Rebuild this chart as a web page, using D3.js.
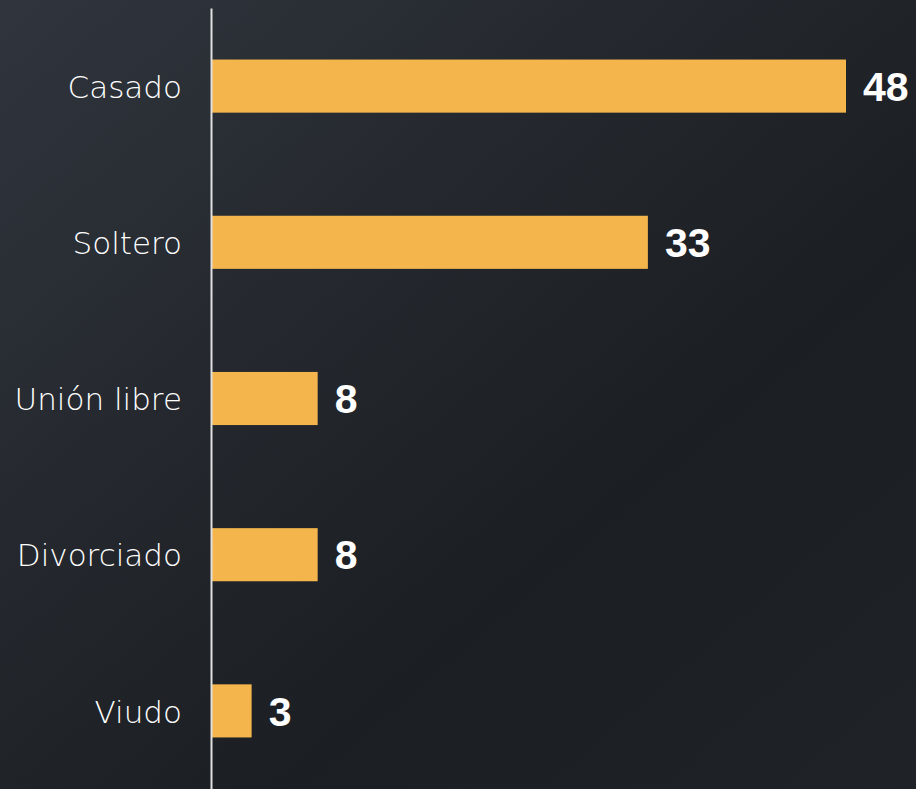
<!DOCTYPE html>
<html><head><meta charset="utf-8">
<script src="https://cdn.jsdelivr.net/npm/d3@7"></script>
<style>html,body{margin:0;padding:0;background:#23272d;}svg{display:block;}</style>
</head><body>
<script>
const categories = ["Casado", "Soltero", "Unión libre", "Divorciado", "Viudo"];
const values = [48, 33, 8, 8, 3];

const W = 916, H = 789;
const svg = d3.select("body").append("svg").attr("width", W).attr("height", H);
const defs = svg.append("defs");
const g = defs.append("linearGradient").attr("id","bg").attr("x1","0").attr("y1","0").attr("x2","1").attr("y2","1");
g.append("stop").attr("offset","0").attr("stop-color","#30353d");
g.append("stop").attr("offset","0.65").attr("stop-color","#1b1e22");
g.append("stop").attr("offset","1").attr("stop-color","#1f2226");
svg.append("rect").attr("width",W).attr("height",H).attr("fill","url(#bg)");

const x0 = 212;
const x = d3.scaleLinear().domain([0, 48]).range([x0, 846]);
const y = d3.scaleBand().domain(categories).range([8, 789]).paddingInner(0.66).paddingOuter(0.33);

svg.selectAll("rect.bar").data(categories).enter().append("rect")
  .attr("class","bar")
  .attr("x", x(0))
  .attr("y", d => y(d))
  .attr("width", (d,i) => x(values[i]) - x(0))
  .attr("height", y.bandwidth())
  .attr("fill", "#f4b64c");

svg.selectAll("text.val").data(categories).enter().append("text")
  .attr("class","val")
  .attr("x", (d,i) => x(values[i]) + 17)
  .attr("y", d => y(d) + y.bandwidth()/2)
  .attr("dy","0.36em")
  .attr("fill","#ffffff")
  .attr("font-family","'Liberation Sans', Arial, sans-serif")
  .attr("font-weight","bold")
  .attr("font-size", 41)
  .text((d,i) => values[i]);

const axis = d3.axisLeft(y).tickSize(0).tickPadding(29);
const ag = svg.append("g").attr("transform", `translate(${x0 - 1},0)`).call(axis);
ag.select(".domain").attr("stroke","#e0e0e0").attr("stroke-width",2);
ag.selectAll("text")
  .attr("fill","#ffffff")
  .attr("dy","0.38em")
  .attr("font-family","'Century Gothic', 'DejaVu Sans', sans-serif")
  .attr("font-weight","200")
  .attr("font-size", 31);
</script>
</body></html>
